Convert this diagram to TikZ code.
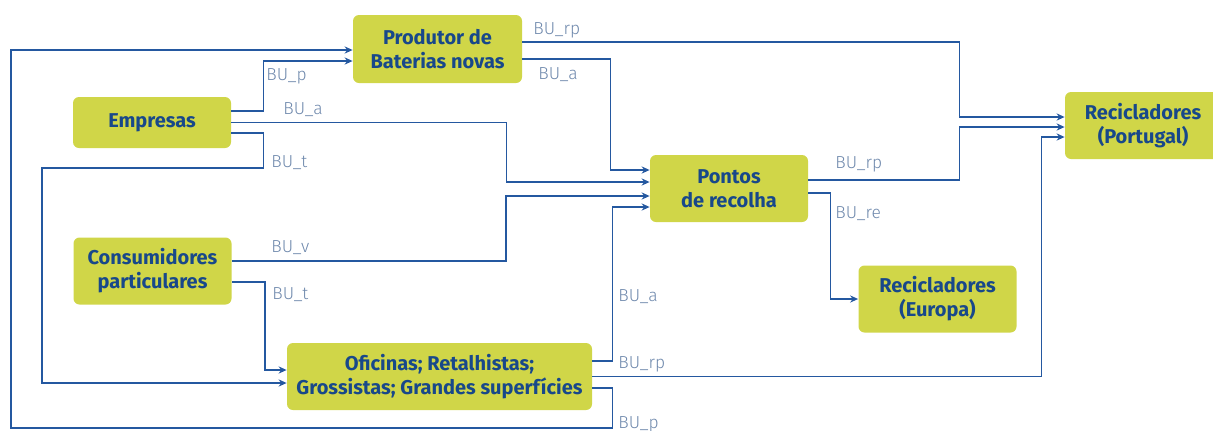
\documentclass[tikz,border=0pt]{standalone}
\usepackage{fontspec}
\setmainfont{Fira Sans}
\newfontfamily\thinlabel{Fira Sans}[UprightFont={* Light}]
\usepackage{tikz}
\usetikzlibrary{arrows.meta}
\usepackage{xcolor}
\definecolor{boxfill}{RGB}{208,214,72}
\definecolor{boxtext}{RGB}{24,72,138}
\definecolor{flowblue}{RGB}{36,88,160}
\definecolor{lbltext}{RGB}{110,136,172}
\tikzset{
  actor/.style={fill=boxfill, rounded corners=3pt, text=boxtext, align=center,
    font=\fontsize{10}{12}\selectfont\bfseries,
    minimum width=79pt, minimum height=33.5pt, inner sep=2pt},
  route/.style={draw=flowblue, line width=0.7pt, -{Stealth[length=4pt,width=3.6pt]}},
  lbl/.style={text=lbltext, font=\thinlabel\fontsize{8.7}{10}\selectfont, anchor=west, inner sep=0pt},
}

\begin{document}
\begin{tikzpicture}[x=0.5pt,y=-0.5pt]
\useasboundingbox (0,0) rectangle (1213,430);
\clip (0,0) rectangle (1213,430);
\node[actor, minimum width=84.5pt, minimum height=34pt] (prod) at (437.5,49) {Produtor de\\Baterias novas};
\node[actor, minimum height=25.5pt] (emp) at (152,122.5) {Empresas};
\node[actor] (cons) at (152.5,271) {Consumidores\\particulares};
\node[actor, minimum width=152.5pt] (ofic) at (439.5,376.5) {Oficinas; Retalhistas;\\Grossistas; Grandes superfícies};
\node[actor] (pont) at (729,188.5) {Pontos\\de recolha};
\node[actor, minimum width=78pt] (recpt) at (1143,125.5) {Recicladores\\(Portugal)};
\node[actor] (receu) at (937.5,299) {Recicladores\\(Europa)};
\coordinate (bendA) at (11,428);
\coordinate (bendB) at (42,168);
% para o produtor
\draw[route] ([yshift=-5.75pt]ofic.east) -- ++(20,0) |- (bendA) |- ([yshift=-0.5pt]prod.west);
\draw[route] ([yshift=5.75pt]emp.east) -- ++(32,0) |- ([yshift=-6pt]prod.west);
% para os pontos de recolha
\draw[route] (emp.east) -- ++(275,0) |- ([yshift=3.25pt]pont.west);
\draw[route] ([yshift=-5pt]prod.east) -- ++(88,0) |- ([yshift=9.25pt]pont.west);
\draw[route] ([yshift=5pt]cons.east) -- ++(274,0) |- ([yshift=-3.75pt]pont.west);
\draw[route] ([yshift=7.75pt]ofic.east) -- ++(20,0) |- ([yshift=-9.25pt]pont.west);
% para as oficinas
\draw[route] ([yshift=-5.25pt]emp.east) -- ++(32,0) |- (bendB) |- ([yshift=-3.25pt]ofic.west);
\draw[route] ([yshift=-5.5pt]cons.east) -- ++(33,0) |- ([yshift=3.25pt]ofic.west);
% para os recicladores
\draw[route] ([yshift=3.5pt]prod.east) -- ++(437,0) |- ([yshift=4.25pt]recpt.west);
\draw[route] ([yshift=4.25pt]pont.east) -- ++(151,0) |- ([yshift=-0.75pt]recpt.west);
\draw[route] (ofic.east) -- ++(449,0) |- ([yshift=-5.75pt]recpt.west);
\draw[route] ([yshift=-2.25pt]pont.east) -- ++(22,0) |- (receu.west);
% etiquetas
\node[lbl] (lEmpProd) at (266,76) {BU\_p};
\node[lbl] (lEmpPont) at (283,110) {BU\_a};
\node[lbl] (lEmpOfic) at (271,163) {BU\_t};
\node[lbl] (lProdRec) at (533,30) {BU\_rp};
\node[lbl] (lProdPont) at (538,75) {BU\_a};
\node[lbl] (lConsPont) at (271,248) {BU\_v};
\node[lbl] (lConsOfic) at (272,295) {BU\_t};
\node[lbl] (lOficPont) at (618,297) {BU\_a};
\node[lbl] (lOficRec) at (618,364) {BU\_rp};
\node[lbl] (lOficProd) at (618,424) {BU\_p};
\node[lbl] (lPontRec) at (835,164) {BU\_rp};
\node[lbl] (lPontEu) at (835,214) {BU\_re};
\end{tikzpicture}
\end{document}
